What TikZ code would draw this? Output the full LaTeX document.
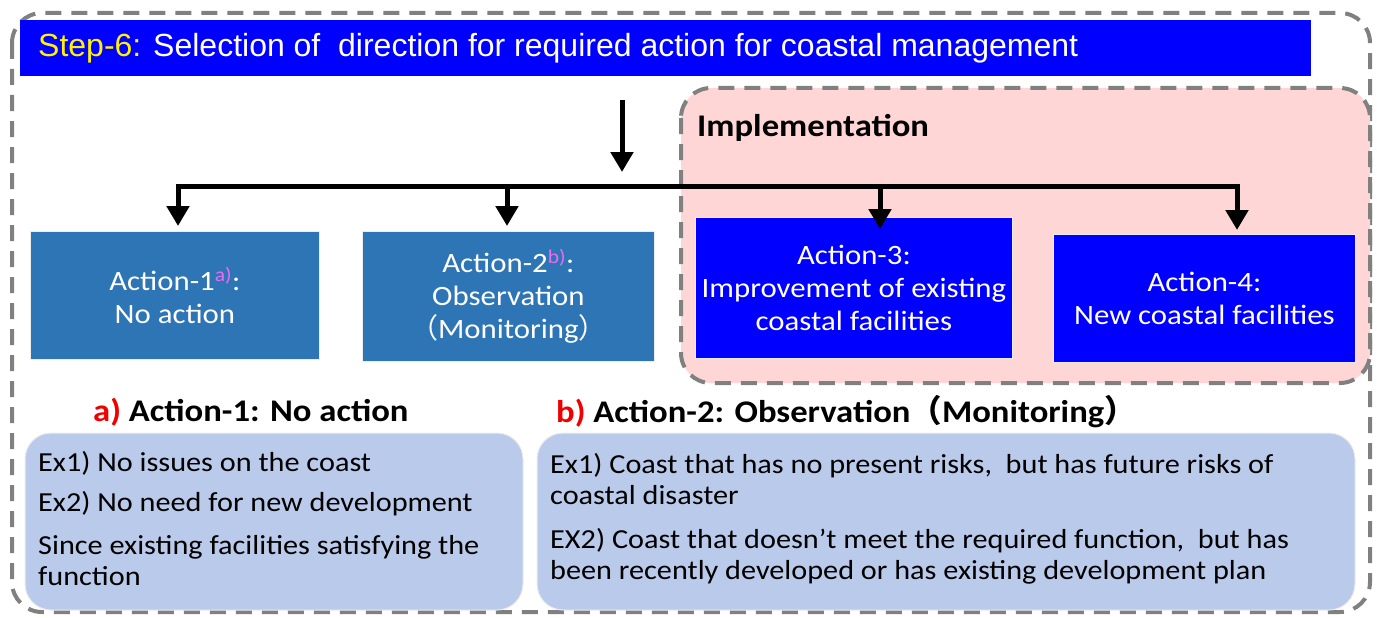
\documentclass[tikz,border=0pt]{standalone}
\usepackage{fontspec}
\setmainfont[FakeStretch=1.1]{Carlito}
\newfontfamily\arialf{Liberation Sans}
\newfontfamily\cjkf{Noto Sans CJK SC}
\usetikzlibrary{arrows.meta}
\definecolor{stepblue}{RGB}{0,0,255}
\definecolor{steel}{RGB}{46,117,182}
\definecolor{pinkbg}{RGB}{255,214,214}
\definecolor{lightblue}{RGB}{186,202,234}
\definecolor{dashgray}{RGB}{128,128,128}
\definecolor{supcol}{RGB}{230,110,240}
\definecolor{redlab}{RGB}{240,0,0}
\newcommand{\lpar}{{\cjkf （}}
\newcommand{\rpar}{{\cjkf ）}}
\tikzset{
  dashbox/.style={draw=dashgray, line width=4pt, dash pattern=on 16pt off 10pt, rounded corners=26pt},
  actbox/.style={draw=white!85!gray, line width=0.8pt, text=white, align=center, font=\fontsize{28}{33}\selectfont, inner sep=0pt},
  exbox/.style={draw=white!85!gray, line width=1pt, fill=lightblue, rounded corners=26pt},
  extext/.style={anchor=west, text=black, font=\fontsize{27.5}{31}\selectfont, align=left, inner sep=0pt},
  heading/.style={anchor=west, inner sep=0pt, font=\bfseries\fontsize{31.5}{34}\selectfont},
  arr/.style={line width=5pt, -{Triangle[width=22pt,length=20pt]}},
  bar/.style={line width=5pt}
}
\begin{document}
\begin{tikzpicture}[x=1pt,y=-1pt]
\useasboundingbox (0,0) rectangle (1377,618);
% outer dashed frame
\draw[dashbox, rounded corners=30pt] (12,13) rectangle (1370,612);
% implementation area
\path[fill=pinkbg, rounded corners=30pt] (681,88) rectangle (1370,383);
\draw[dashbox, rounded corners=30pt] (681,88) rectangle (1370,383);
\node[heading] (impl) at (697,128) {Implementation};
% title bar
\node[fill=stepblue, minimum width=1291pt, minimum height=56pt, anchor=north west, inner sep=0pt] (title) at (20,20) {};
\node[anchor=west, inner sep=0pt, font=\arialf\fontsize{32}{35}\selectfont] (titletext) at (38,48)
  {\textcolor{yellow}{Step-6:} \textcolor{white}{Selection of \ direction for required action for coastal management}};
% action boxes
\node[actbox, fill=steel, minimum width=289pt, minimum height=128pt, anchor=north west] (a1) at (30,231)
  {Action-1\textsuperscript{\textcolor{supcol}{a)}}:\\No action};
\node[actbox, fill=steel, minimum width=292pt, minimum height=130pt, anchor=north west] (a2) at (362,231)
  {Action-2\textsuperscript{\textcolor{supcol}{b)}}:\\Observation\\\lpar Monitoring\rpar};
\node[actbox, fill=stepblue, minimum width=317pt, minimum height=141pt, anchor=north west] (a3) at (695,217)
  {Action-3:\\Improvement of existing\\coastal facilities};
\node[actbox, fill=stepblue, minimum width=302pt, minimum height=128pt, anchor=north west] (a4) at (1053,234)
  {Action-4:\\New coastal facilities};
% connectors
\coordinate (t1) at (622,100);
\coordinate (t2) at (622,172);
\coordinate (j1) at (178,186);
\coordinate (j2) at (507,186);
\coordinate (j3) at (880,186);
\coordinate (j4) at (1237,186);
\draw[arr] (t1) -- (t2);
\draw[bar] ([xshift=-2.5pt]j1) -- ([xshift=2.5pt]j4);
\draw[arr] ([yshift=2.5pt]j1) -- ([yshift=5pt]j1 |- a1.north);
\draw[arr] ([yshift=2.5pt]j2) -- ([yshift=5pt]j2 |- a2.north);
\draw[arr] ([yshift=2.5pt]j3) -- ([yshift=-12pt]j3 |- a3.north);
\draw[arr] ([yshift=2.5pt]j4) -- ([yshift=4pt]j4 |- a4.north);
% headings
\node[heading] (ha) at (93,412) {\textcolor{redlab}{a)} Action-1: No action};
\node[heading] (hb) at (556,412) {\textcolor{redlab}{b)} Action-2: Observation\lpar Monitoring\rpar};
% example boxes
\draw[exbox] (25,433) rectangle (523,610);
\draw[exbox] (537,433) rectangle (1355,610);
\node[extext] (ex1a) at (38,463) {Ex1) No issues on the coast};
\node[extext] (ex2a) at (38,504) {Ex2) No need for new development};
\node[extext] (ex3a) at (38,560.5) {Since existing facilities satisfying the\\function};
\node[extext] (ex1b) at (550,479.5) {Ex1) Coast that has no present risks, \ but has future risks of\\coastal disaster};
\node[extext] (ex2b) at (550,556.5) {EX2) Coast that doesn’t meet the required function, \ but has\\been recently developed or has existing development plan};
\end{tikzpicture}
\end{document}
